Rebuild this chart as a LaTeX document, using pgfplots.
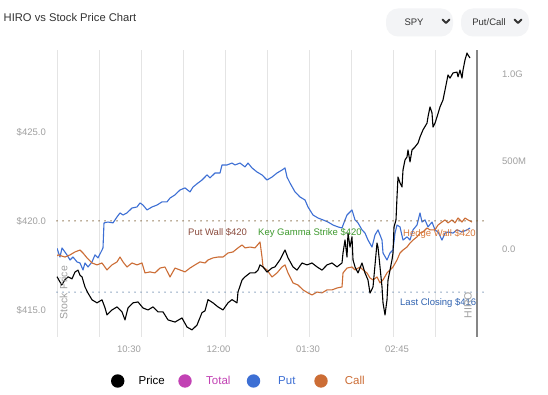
\documentclass[border=0pt]{standalone}
\usepackage{pgfplots}
\pgfplotsset{compat=1.18}
\usepackage{pgfplotstable}
\usepackage{fontspec}
\setmainfont{Liberation Sans}
\definecolor{putblue}{HTML}{3D6FD4}
\definecolor{callorange}{HTML}{CC6D35}
\definecolor{totalmag}{HTML}{C242B4}
\definecolor{gridgray}{HTML}{E4E4E4}
\definecolor{tickgray}{HTML}{A0A0A0}
\definecolor{titlegray}{HTML}{333333}
\definecolor{btnfill}{HTML}{F3F4F6}
\definecolor{wallbrown}{HTML}{8A4A3C}
\definecolor{gammagreen}{HTML}{3E9A2E}
\definecolor{hedgeorange}{HTML}{D8783A}
\definecolor{closeblue}{HTML}{2F62B0}
\definecolor{dotbrown}{HTML}{7A5C32}
\definecolor{dotblue}{HTML}{6F8DB0}

\pgfplotstableread{
x p
0 416.87
4.7 416.40
8 416.70
11 416.86
15 416.75
18 417.13
21 417.24
23 416.95
25 416.86
28 416.29
31 415.95
35 415.57
40 415.40
45 415.57
48 415.12
50 414.72
55 415.00
60 415.17
65 414.89
68 414.44
71 415.11
76 415.40
81 415.45
86 415.11
91 415.00
96 415.17
101 414.89
106 414.89
111 414.44
118 414.32
125 414.55
130 414.04
135 413.88
140 414.15
145 414.85
148 414.95
151 415.58
156 415.40
161 415.17
166 415.00
171 415.40
175 415.58
180 415.40
181 416.01
185 416.68
188 416.86
193 417.08
198 417.08
201 417.24
203 417.53
206 417.42
210 417.13
215 417.36
218 417.42
223 417.82
228 418.37
231 417.93
236 417.42
240 417.24
245 417.64
250 417.53
255 417.64
260 417.42
265 417.24
270 417.53
275 417.64
280 417.42
285 417.64
286 418.20
288 418.93
290 417.97
291 419.33
293 418.53
295 419.11
296 417.82
298 417.42
301 417.08
305 417.64
308 417.08
311 416.68
313 415.95
316 416.29
320 418.76
321 418.53
323 417.42
325 416.29
326 415.40
328 414.72
330 415.57
331 416.68
333 417.24
335 417.82
336 418.20
337 419.66
339 420.06
340 421.35
341 422.47
343 422.14
345 421.91
346 422.87
348 423.43
350 423.60
351 423.99
353 423.32
355 423.99
358 424.16
361 424.38
363 424.72
366 425.12
370 425.50
371 425.85
373 426.41
375 426.07
376 425.28
378 425.50
380 425.85
383 426.41
386 426.80
390 427.92
391 428.21
393 428.03
396 428.32
400 428.37
401 428.10
403 428.48
405 428.03
406 428.48
408 429.05
410 429.44
411 429.33
413 429.16
}\pricetable

\pgfplotstableread{
x v
0 4
3 -46
5 6
10 -34
13 -63
16 -46
20 -74
23 -80
26 -120
28 -80
31 -103
35 -74
38 -34
41 -51
45 -6
46 6
47 149
51 154
56 149
60 183
63 206
66 194
70 206
75 234
80 240
83 263
86 251
90 223
95 240
100 251
105 269
110 269
113 291
118 309
123 337
128 349
133 326
136 354
141 377
145 394
150 423
153 406
158 434
163 434
165 480
170 480
175 491
178 480
183 491
188 469
191 491
195 463
200 440
205 423
210 394
215 411
220 434
225 451
228 463
230 411
233 377
238 326
243 297
248 280
251 240
256 194
261 177
266 166
271 154
276 137
281 126
285 120
288 166
290 194
295 223
298 166
301 149
305 109
308 91
311 51
315 11
318 80
321 109
325 51
326 -23
330 -63
333 -23
336 -6
338 91
340 137
343 126
346 51
350 69
353 51
356 109
360 137
363 206
365 154
368 166
371 126
375 154
378 109
381 97
385 51
388 91
391 97
396 91
400 109
405 97
410 109
413 120
}\puttable

\pgfplotstableread{
x v
0 -40
1 -34
8 -46
13 -34
18 -17
23 -6
26 -23
30 -51
35 -80
40 -91
45 -80
50 -120
55 -91
60 -74
63 -46
66 -74
70 -103
75 -80
80 -91
85 -80
88 -137
93 -131
98 -137
103 -109
108 -103
113 -160
118 -109
123 -120
128 -131
133 -109
138 -91
143 -74
148 -80
151 -63
156 -51
161 -46
166 -46
171 -23
176 -17
181 6
185 23
188 6
193 11
198 6
203 40
205 -46
206 -103
210 -120
215 -160
220 -137
225 -103
228 -91
231 -137
236 -194
241 -206
246 -234
251 -251
255 -263
260 -246
265 -251
270 -234
275 -234
280 -223
285 -217
286 -137
290 -109
295 -103
298 -120
303 -103
306 -120
310 -137
313 -166
316 -177
320 -160
323 -194
326 -177
330 -137
333 -120
336 -103
340 -63
343 -23
346 -6
350 11
353 34
356 51
360 69
363 91
366 97
370 120
373 109
378 109
381 137
385 154
388 166
391 149
395 166
398 149
401 177
405 154
408 177
411 166
415 154
}\calltable

\begin{document}
\begin{tikzpicture}[x=1pt,y=1pt]
\path[use as bounding box] (0,0) rectangle (548,395);
\fill[white] (0,0) rectangle (548,395);

% HIRO (right) axis
\begin{axis}[
  at={(57pt,58pt)}, anchor=south west, scale only axis,
  width=420pt, height=287pt,
  xmin=0, xmax=420, ymin=-503, ymax=1137,
  axis y line*=right,
  x axis line style={draw=none},
  y axis line style={draw=gray!95, line width=1.3pt},
  major tick length=0pt,
  xtick={72,161.5,251,340},
  xticklabels={10:30,12:00,01:30,02:45},
  xticklabel style={inner sep=0pt, yshift=-8.5pt, text=tickgray, font=\fontsize{9.5}{11}\selectfont},
  extra x ticks={0,42,84,126,168,210,252,294,336,378},
  extra x tick labels={},
  extra x tick style={grid=major, major grid style={draw=gridgray, line width=0.9pt}},
  ytick={0,500,1000},
  yticklabels={0.0,500M,1.0G},
  yticklabel style={anchor=west, inner sep=0pt, xshift=25pt, text=tickgray, font=\fontsize{9.5}{11}\selectfont},
]
\addplot[putblue, line width=1.1pt, line join=round] table[x=x, y=v] {\puttable};
\addplot[callorange, line width=1.1pt, line join=round] table[x=x, y=v] {\calltable};
\end{axis}

% Price (left) axis
\begin{axis}[
  at={(57pt,58pt)}, anchor=south west, scale only axis,
  width=420pt, height=287pt,
  xmin=0, xmax=420, ymin=413.48, ymax=429.61,
  axis line style={draw=none},
  clip=false,
  major tick length=0pt,
  xtick=\empty,
  ytick={415,420,425},
  yticklabels={\$415.0,\$420.0,\$425.0},
  yticklabel style={anchor=east, inner sep=0pt, xshift=-11pt, text=tickgray, font=\fontsize{9.5}{11}\selectfont},
]
\addplot[dotbrown, line width=1.5pt, line cap=round, dash pattern=on 0pt off 6pt] coordinates {(0,420) (428,420)};
\addplot[dotblue, line width=1.5pt, line cap=round, dash pattern=on 0pt off 6pt] coordinates {(0,416) (428,416)};
\addplot[black, line width=1.1pt, line join=round] table[x=x, y=p] {\pricetable};
\end{axis}

% annotations
\node[anchor=base west, inner sep=0, text=wallbrown, font=\fontsize{9.5}{11}\selectfont] at (188,159.6) {Put Wall \$420};
\node[anchor=base west, inner sep=0, text=gammagreen, font=\fontsize{9.5}{11}\selectfont] at (258,159.6) {Key Gamma Strike \$420};
\node[anchor=base west, inner sep=0, text=hedgeorange, font=\fontsize{9.5}{11}\selectfont] at (403,158.6) {Hedge Wall \$420};
\node[anchor=base west, inner sep=0, text=closeblue, font=\fontsize{9.5}{11}\selectfont] at (400,89) {Last Closing \$416};
\node[rotate=90, inner sep=0, text=tickgray, font=\fontsize{10.5}{12}\selectfont] at (63.5,102.5) {Stock Price};
\node[rotate=90, inner sep=0, text=tickgray, font=\fontsize{10.5}{12}\selectfont] at (468,90) {HIRO};

% title and buttons
\node[anchor=base west, inner sep=0, text=titlegray, font=\fontsize{11.2}{13}\selectfont] at (3.5,373) {HIRO vs Stock Price Chart};
\fill[btnfill, rounded corners=12pt] (386,358.5) rectangle (453,386.5);
\fill[btnfill, rounded corners=12pt] (461,358.5) rectangle (529,386.5);
\node[anchor=base, inner sep=0, text=titlegray, font=\fontsize{9.5}{11}\selectfont] at (414,369.4) {SPY};
\node[anchor=base, inner sep=0, text=titlegray, font=\fontsize{9.5}{11}\selectfont] at (489,369.4) {Put/Call};
\draw[titlegray, line width=1.9pt, line cap=round, line join=round] (442.5,375.5) -- (446,372) -- (449.5,375.5);
\draw[titlegray, line width=1.9pt, line cap=round, line join=round] (514.5,375.5) -- (518,372) -- (521.5,375.5);

% legend
\fill[black] (117.7,14) circle (6.7);
\fill[totalmag] (185,14) circle (6.7);
\fill[putblue] (253.5,14) circle (6.7);
\fill[callorange] (321,14) circle (6.7);
\node[anchor=base west, inner sep=0, text=black, font=\fontsize{11.5}{13}\selectfont] at (138.4,10) {Price};
\node[anchor=base west, inner sep=0, text=totalmag, font=\fontsize{11.5}{13}\selectfont] at (206,10) {Total};
\node[anchor=base west, inner sep=0, text=putblue, font=\fontsize{11.5}{13}\selectfont] at (278,10) {Put};
\node[anchor=base west, inner sep=0, text=callorange, font=\fontsize{11.5}{13}\selectfont] at (344.7,10) {Call};
\end{tikzpicture}
\end{document}
